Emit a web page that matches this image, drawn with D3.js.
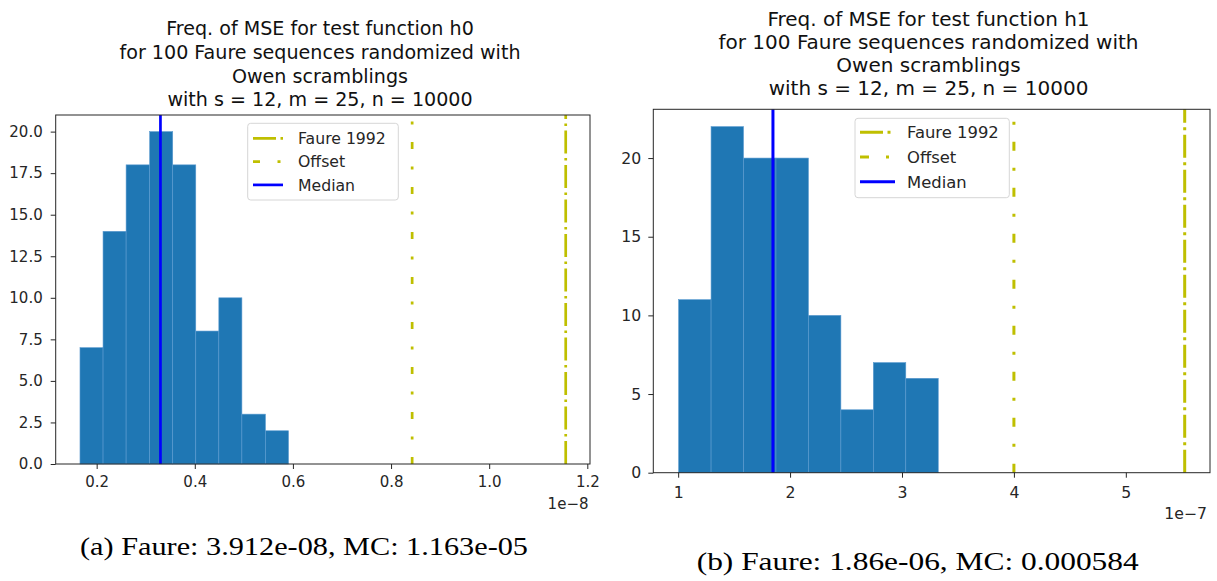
<!DOCTYPE html>
<html><head><meta charset="utf-8">
<script src="https://cdn.jsdelivr.net/npm/d3@7"></script>
<style>body{margin:0;background:#fff}</style></head>
<body>
<svg id="c" width="1217" height="581" xmlns="http://www.w3.org/2000/svg"></svg>
<script>
// ---------- DATA (x values in units of the axis offset: 1e-8 for h0, 1e-7 for h1) ----------
const h0Title = ["Freq. of MSE for test function h0", "for 100 Faure sequences randomized with", "Owen scramblings", "with s = 12, m = 25, n = 10000"];
const h0BinEdges = [0.166, 0.213, 0.260, 0.308, 0.355, 0.402, 0.449, 0.496, 0.544, 0.591];
const h0Counts = [7, 14, 18, 20, 18, 8, 10, 3, 2];
const h0Median = 0.330;
const h0Offset = 0.843;
const h0Faure = 1.156;
const h0XTicks = [0.2, 0.4, 0.6, 0.8, 1.0, 1.2];
const h0YTicks = [0, 2.5, 5, 7.5, 10, 12.5, 15, 17.5, 20];
const h0Exponent = "1e\u22128";
const h0Caption = "(a) Faure: 3.912e-08, MC: 1.163e-05";

const h1Title = ["Freq. of MSE for test function h1", "for 100 Faure sequences randomized with", "Owen scramblings", "with s = 12, m = 25, n = 10000"];
const h1BinEdges = [1.004, 1.294, 1.584, 1.874, 2.164, 2.454, 2.744, 3.034, 3.324];
const h1Counts = [11, 22, 20, 20, 10, 4, 7, 6];
const h1Median = 1.847;
const h1Offset = 4.00;
const h1Faure = 5.526;
const h1XTicks = [1, 2, 3, 4, 5];
const h1YTicks = [0, 5, 10, 15, 20];
const h1Exponent = "1e\u22127";
const h1Caption = "(b) Faure: 1.86e-06, MC: 0.000584";

const legendLabels = ["Faure 1992", "Offset", "Median"];

// ---------- STYLE / LAYOUT ----------
const BAR = "#1f77b4", YEL = "#bfbf00", MED = "#0000ff", INK = "#262626";
const svg = d3.select("#c");

function drawPanel(p) {
  const lo = p.edges[0], hi = p.faure, pad = (hi - lo) * 0.05;
  const x = d3.scaleLinear().domain([lo - pad, hi + pad]).range([p.L, p.R]);
  const y = d3.scaleLinear().domain([0, d3.max(p.counts) * 1.05]).range([p.B, p.T]);
  const g = svg.append("g");

  // bars
  g.selectAll("rect.bar").data(p.counts).join("rect")
    .attr("x", (d, i) => x(p.edges[i]))
    .attr("width", (d, i) => x(p.edges[i + 1]) - x(p.edges[i]))
    .attr("y", d => y(d))
    .attr("height", d => y(0) - y(d))
    .attr("fill", BAR).attr("stroke", "#5b9bd0").attr("stroke-width", 0.6);

  // vertical reference lines (drawn bottom -> top)
  const vlines = [
    {v: p.faure, c: YEL, dash: p.faureDash},
    {v: p.offset, c: YEL, dash: p.offsetDash},
    {v: p.median, c: MED, dash: null}
  ];
  vlines.forEach(l => {
    g.append("line").attr("x1", x(l.v)).attr("x2", x(l.v))
      .attr("y1", p.B).attr("y2", p.T)
      .attr("stroke", l.c).attr("stroke-width", p.lw)
      .attr("stroke-dasharray", l.dash);
  });

  // frame
  g.append("rect").attr("x", p.L).attr("y", p.T).attr("width", p.R - p.L).attr("height", p.B - p.T)
    .attr("fill", "none").attr("stroke", INK).attr("stroke-width", 1);

  // axes
  const xa = g.append("g").attr("transform", `translate(0,${p.B})`)
    .call(d3.axisBottom(x).tickValues(p.xTicks).tickFormat(p.xFmt).tickSize(5).tickPadding(p.xPad).tickSizeOuter(0));
  const ya = g.append("g").attr("transform", `translate(${p.L},0)`)
    .call(d3.axisLeft(y).tickValues(p.yTicks).tickFormat(p.yFmt).tickSize(5).tickPadding(p.yPad).tickSizeOuter(0));
  [xa, ya].forEach(a => {
    a.select(".domain").remove();
    a.selectAll("line").attr("stroke", INK);
    a.selectAll("text").attr("fill", INK).attr("font-family", "DejaVu Sans").attr("font-size", p.fs);
  });

  // offset text
  g.append("text").attr("x", p.expX).attr("y", p.expY).attr("text-anchor", "end").attr("dy", "0.36em")
    .attr("font-family", "DejaVu Sans").attr("font-size", p.fs).attr("fill", INK).text(p.exponent);

  // title
  g.append("g").selectAll("text").data(p.title).join("text")
    .attr("x", p.titleX).attr("y", (d, i) => p.titleY + i * p.titleStep).attr("dy", "0.36em")
    .attr("text-anchor", "middle").attr("font-family", "DejaVu Sans").attr("font-size", p.tfs)
    .attr("fill", "#111").text(d => d);

  // legend
  const lg = g.append("g");
  lg.append("rect").attr("x", p.lgX).attr("y", p.lgY).attr("width", p.lgW).attr("height", p.lgH)
    .attr("rx", 3).attr("fill", "#fff").attr("fill-opacity", 0.8).attr("stroke", "#d6d6d6");
  const styles = [{c: YEL, dash: p.faureDash}, {c: YEL, dash: p.offsetDash}, {c: MED, dash: null}];
  legendLabels.forEach((lab, i) => {
    const yy = p.lgRow0 + i * p.lgStep;
    lg.append("line").attr("x1", p.lgS0).attr("x2", p.lgS1).attr("y1", yy).attr("y2", yy)
      .attr("stroke", styles[i].c).attr("stroke-width", p.lw).attr("stroke-dasharray", styles[i].dash);
    lg.append("text").attr("x", p.lgTx).attr("y", yy).attr("dy", "0.36em")
      .attr("font-family", "DejaVu Sans").attr("font-size", p.lfs).attr("fill", INK).text(lab);
  });

  // caption
  svg.append("text").attr("x", p.capX).attr("y", p.capY).attr("font-family", "Liberation Serif")
    .attr("font-size", p.cfs).attr("fill", "#000")
    .attr("textLength", p.capW).attr("lengthAdjust", "spacingAndGlyphs").text(p.caption);
}

drawPanel({
  edges: h0BinEdges, counts: h0Counts, median: h0Median, offset: h0Offset, faure: h0Faure,
  xTicks: h0XTicks, yTicks: h0YTicks, xFmt: d3.format(".1f"), yFmt: d3.format(".1f"),
  exponent: h0Exponent, title: h0Title, caption: h0Caption,
  L: 55.7, R: 590, T: 115, B: 464, lw: 2.7,
  faureDash: "23,4.5,2.5,4.5", offsetDash: "7,17.5,3,17.5",
  fs: 15, xPad: 7, yPad: 8, expX: 588.5, expY: 503.5,
  tfs: 19.1, titleX: 320, titleY: 28.3, titleStep: 23.7,
  lgX: 247.7, lgY: 123.3, lgW: 150.6, lgH: 76.7, lgRow0: 138.3, lgStep: 23.3,
  lgS0: 253, lgS1: 283, lgTx: 298, lfs: 15.7,
  capX: 80, capY: 555, capW: 448, cfs: 25
});

drawPanel({
  edges: h1BinEdges, counts: h1Counts, median: h1Median, offset: h1Offset, faure: h1Faure,
  xTicks: h1XTicks, yTicks: h1YTicks, xFmt: d3.format("d"), yFmt: d3.format("d"),
  exponent: h1Exponent, title: h1Title, caption: h1Caption,
  L: 653.3, R: 1210, T: 109.3, B: 472.7, lw: 3,
  faureDash: "23,4.5,3,4.5", offsetDash: "9,17,3,17",
  fs: 15.7, xPad: 9, yPad: 7, expX: 1207, expY: 513,
  tfs: 20, titleX: 928.5, titleY: 18.3, titleStep: 23,
  lgX: 855, lgY: 118.3, lgW: 154.3, lgH: 79.4, lgRow0: 132.3, lgStep: 24.7,
  lgS0: 860, lgS1: 895, lgTx: 907, lfs: 16.4,
  capX: 696.7, capY: 570, capW: 442, cfs: 25
});
</script>
</body></html>
